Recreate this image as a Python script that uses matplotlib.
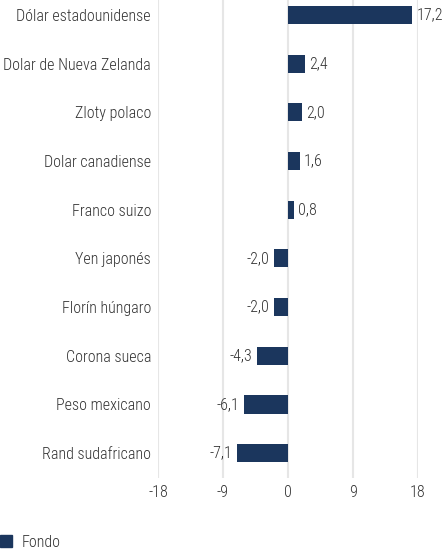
import matplotlib.pyplot as plt
import matplotlib.patches as mpatches

plt.rcParams['font.family'] = ["Roboto Condensed", "DejaVu Sans"]
plt.rcParams['font.weight'] = "light"

monedas = ["Dólar estadounidense", "Dolar de Nueva Zelanda", "Zloty polaco",
           "Dolar canadiense", "Franco suizo", "Yen japonés", "Florín húngaro",
           "Corona sueca", "Peso mexicano", "Rand sudafricano"]
fondo = [17.2, 2.4, 2.0, 1.6, 0.8, -2.0, -2.0, -4.3, -6.1, -7.1]
ticks = [-18, -9, 0, 9, 18]

color = "#1b365d"
txt = "#333333"
fs = 11.5

fig = plt.figure(figsize=(4.42, 5.54), dpi=100)
ax = fig.add_axes([158/442, 76/554, 260/442, 478/554])

pos = list(range(len(monedas)))
ax.barh(pos, fondo, height=0.37, color=color, zorder=3)
ax.set_ylim(9.51, -0.31)
ax.set_xlim(-18, 18)
ax.set_xticks(ticks)
ax.set_xticklabels([str(t) for t in ticks])
ax.set_yticks(pos)
ax.set_yticklabels(monedas)
ax.tick_params(axis='both', length=0, labelsize=fs, colors=txt)
ax.tick_params(axis='y', pad=5)
ax.tick_params(axis='x', pad=5)
for s in ax.spines.values():
    s.set_visible(False)
ax.grid(axis='x', color="#e6e6e6", linewidth=1.5, zorder=0)

for p, v in zip(pos, fondo):
    lab = f"{v:.1f}".replace(".", ",")
    if v >= 0:
        ax.annotate(lab, (v, p), xytext=(3, 0), textcoords="offset points",
                    ha="left", va="center", fontsize=fs, color=txt)
    else:
        ax.annotate(lab, (v, p), xytext=(-3, 0), textcoords="offset points",
                    ha="right", va="center", fontsize=fs, color=txt)

fig.legend(handles=[mpatches.Patch(color=color, label="Fondo")],
           loc="lower left", bbox_to_anchor=(0.0, 0.008), frameon=False,
           borderpad=0, borderaxespad=0,
           fontsize=fs, handlelength=0.75, handleheight=0.75, handletextpad=0.6,
           labelcolor=txt)

fig.savefig("out.png", dpi=100)
